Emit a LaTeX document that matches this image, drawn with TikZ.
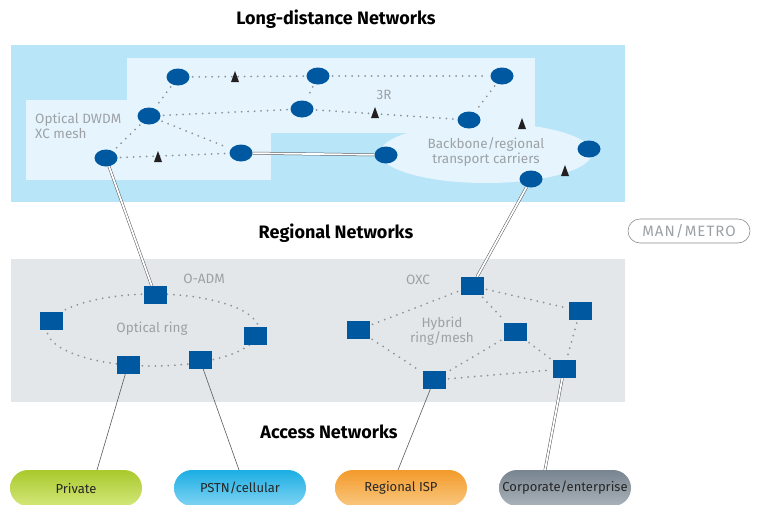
\documentclass[tikz,border=0pt]{standalone}
\usepackage{fontspec}
\setmainfont{Fira Sans}
\usetikzlibrary{shapes.geometric,shapes.misc}
\definecolor{skyblue}{HTML}{B9E5F9}
\definecolor{paleblue}{HTML}{E6F5FD}
\definecolor{regiongray}{HTML}{E4E7EA}
\definecolor{nodeblue}{HTML}{0059A0}
\definecolor{dotgray}{HTML}{8E9397}
\definecolor{labelgray}{HTML}{9CA1A6}
\definecolor{triblack}{HTML}{231F20}
\definecolor{linegray}{HTML}{555A5E}
\definecolor{pgreen}{HTML}{A9C92C}
\definecolor{pgreenl}{HTML}{D2E77A}
\definecolor{pcyan}{HTML}{1CAEE3}
\definecolor{pcyanl}{HTML}{7FD3F3}
\definecolor{porange}{HTML}{F39A2B}
\definecolor{porangel}{HTML}{F9C77E}
\definecolor{pslate}{HTML}{78848F}
\definecolor{pslatel}{HTML}{A9B2BA}
\tikzset{
  xc/.style={ellipse, fill=nodeblue, minimum width=23pt, minimum height=17pt, inner sep=0pt},
  adm/.style={rectangle, fill=nodeblue, minimum width=23pt, minimum height=18pt, inner sep=0pt},
  dotline/.style={draw=dotgray, line width=2pt, line cap=round, dash pattern=on 0pt off 6.5pt, shorten >=3pt, shorten <=3pt},
  dbl/.style={draw=linegray, line width=0.5pt, double=white, double distance=1.8pt},
  thinline/.style={draw=linegray, line width=0.6pt},
  glabel/.style={text=labelgray, font=\fontsize{13.5}{15}\selectfont, inner sep=0pt},
  title/.style={font=\bfseries\fontsize{18}{20}\selectfont, inner sep=0pt},
  pill/.style={rounded rectangle, minimum width=132pt, minimum height=36pt, inner sep=0pt, font=\fontsize{13}{14}\selectfont, text=black!85},
  tri/.pic={\fill[triblack] (-4,5) -- (0,-6) -- (4,5) -- cycle;}
}
\begin{document}
\begin{tikzpicture}[x=1pt,y=-1pt]
\useasboundingbox (0,0) rectangle (763,504);
% regions
\fill[skyblue] (11,45) rectangle (625,202);
\fill[paleblue] (127,58) rectangle (535,133);
\fill[paleblue] (26,100) rectangle (271,180);
\fill[paleblue] (486,153) ellipse [x radius=106pt, y radius=30pt];
\fill[regiongray] (11,259) rectangle (625,402);
% titles
\node[title] (tlong) at (336,19) {Long-distance Networks};
\node[title] (treg) at (336,233) {Regional Networks};
\node[title] (tacc) at (329,432) {Access Networks};
\node[draw=black!45, line width=0.6pt, rounded rectangle, text=labelgray, font=\fontsize{15}{16}\selectfont\addfontfeature{LetterSpace=7}, minimum width=122pt, minimum height=24pt, inner sep=0pt] (man) at (689,231) {MAN/METRO};
% labels
\node[glabel, anchor=west, align=left] (ldwdm) at (35,126) {Optical DWDM\\XC mesh};
\node[glabel] (l3r) at (384,95) {3R};
\node[glabel, align=center] (lback) at (486,152) {Backbone/regional\\transport carriers};
\node[glabel] (loadm) at (204,279) {O-ADM};
\node[glabel] (lring) at (152,329) {Optical ring};
\node[glabel] (loxc) at (418,280) {OXC};
\node[glabel, align=center] (lhyb) at (442,331) {Hybrid\\ring/mesh};
% long-distance nodes
\node[xc] (A) at (178,77) {};
\node[xc] (B) at (318,76) {};
\node[xc] (C) at (502,76) {};
\node[xc] (D) at (149,116) {};
\node[xc] (E) at (302,109) {};
\node[xc] (F) at (469,120) {};
\node[xc] (G) at (106,158) {};
\node[xc] (H) at (241,153) {};
\node[xc] (I) at (386,155) {};
\node[xc] (J) at (589,149) {};
\node[xc] (K) at (531,179) {};
\foreach \a/\b in {A/B,B/C,A/D,B/E,C/F,D/E,D/G,D/H,G/H,E/F}
  \draw[dotline] (\a) -- (\b);
\pic at (235,77) {tri};
\pic at (158,157) {tri};
\pic at (375,113) {tri};
\pic at (522,124) {tri};
\pic at (565,171) {tri};
% regional: optical ring
\draw[dotline] (153,330) ellipse [x radius=106pt, y radius=36pt];
\node[adm] (S1) at (155,295) {};
\node[adm] (S2) at (51,321) {};
\node[adm] (S3) at (255,336) {};
\node[adm] (S4) at (128,365) {};
\node[adm] (S5) at (200,360) {};
% hybrid mesh
\node[adm] (T1) at (472,286) {};
\node[adm] (T2) at (358,330) {};
\node[adm] (T3) at (580,311) {};
\node[adm] (T4) at (515,332) {};
\node[adm] (T5) at (434,380) {};
\node[adm] (T6) at (564,369) {};
\foreach \a/\b in {T1/T2,T1/T3,T1/T4,T2/T5,T4/T5,T4/T6,T5/T6,T3/T6}
  \draw[dotline] (\a) -- (\b);
% double links
\draw[dbl] (H) -- (I);
\draw[dbl] (G) -- (S1);
\draw[dbl] (K) -- (T1);
% access pills
\node[pill, top color=pgreen, bottom color=pgreenl] (priv) at (76,488) {Private};
\node[pill, top color=pcyan, bottom color=pcyanl] (pstn) at (240,488) {PSTN/cellular};
\node[pill, top color=porange, bottom color=porangel] (isp) at (401,488) {Regional ISP};
\node[pill, top color=pslate, bottom color=pslatel] (corp) at (565,488) {Corporate/enterprise};
\coordinate (pa) at (97,470);
\coordinate (pb) at (239,470);
\coordinate (pc) at (398,470);
\coordinate (pd) at (545,470);
\draw[thinline] (S4) -- (pa);
\draw[thinline] (S5) -- (pb);
\draw[thinline] (T5) -- (pc);
\draw[dbl] (T6) -- (pd);
\end{tikzpicture}
\end{document}
